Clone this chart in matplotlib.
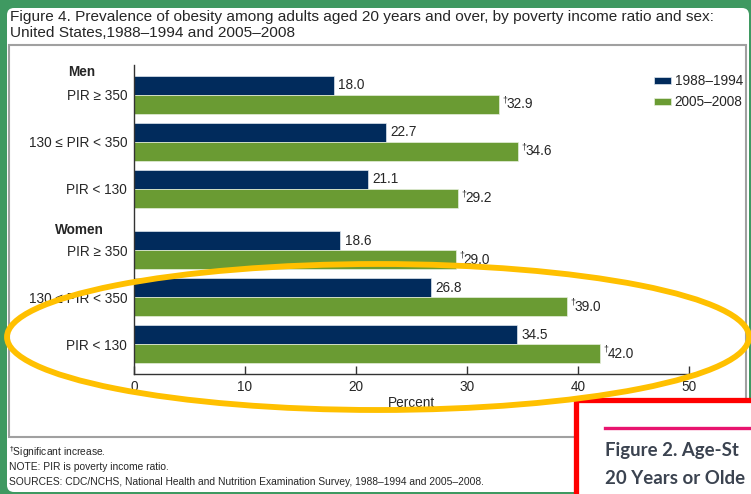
import numpy as np
import matplotlib.pyplot as plt
import matplotlib.transforms as mtransforms
from matplotlib.patches import Ellipse, Rectangle, FancyBboxPatch

# data
groups = ['PIR ≥ 350', '130 ≤ PIR < 350', 'PIR < 130']
men_8894 = [18.0, 22.7, 21.1]
men_0508 = [32.9, 34.6, 29.2]
women_8894 = [18.6, 26.8, 34.5]
women_0508 = [29.0, 39.0, 42.0]
series = ['1988–1994', '2005–2008']
xticks = [0, 10, 20, 30, 40, 50]

navy = '#012b5c'
green = '#6a9b33'
frame_green = '#3f9961'
txt = '#262626'
fs = 9.8

W, H = 751, 494
fig = plt.figure(figsize=(W / 100, H / 100), dpi=100, facecolor=frame_green)
# pixel coords, origin top-left
pix = mtransforms.Affine2D().scale(1 / W, -1 / H).translate(0, 1) + fig.transFigure

# white page + grey chart box
fig.patches.append(FancyBboxPatch((7, 8), 742, 484, boxstyle='round,pad=0,rounding_size=7',
                                  transform=pix, facecolor='white', edgecolor='none', zorder=0))
fig.patches.append(Rectangle((8.5, 45.5), 737, 391, transform=pix, facecolor='white',
                             edgecolor='#a0a0a0', linewidth=1.5, zorder=1))

fig.text(10, 17, 'Figure 4. Prevalence of obesity among adults aged 20 years and over, by poverty income ratio and sex:',
         transform=pix, fontsize=11.1, color=txt, va='center', family='Liberation Sans')
fig.text(10, 33, 'United States,1988–1994 and 2005–2008',
         transform=pix, fontsize=11.1, color=txt, va='center', family='Liberation Sans')

ax = fig.add_axes([134 / W, 1 - 374 / H, 555 / W, 309 / H], zorder=2)
ax.patch.set_alpha(0)

slots = [0, 1, 2, 3.3, 4.3, 5.3]
h = 0.404
old = men_8894 + women_8894
new = men_0508 + women_0508
pos = np.array(slots)
ax.barh(pos - h / 2, old, height=h, color=navy, edgecolor='#dfe6ee', linewidth=0.5, label=series[0])
ax.barh(pos + h / 2, new, height=h, color=green, edgecolor='#e6efdc', linewidth=0.5, label=series[1])

for y, v in zip(pos - h / 2, old):
    ax.annotate(f'{v:.1f}', xy=(v, y), xytext=(3, 0), textcoords='offset points',
                va='center', ha='left', fontsize=fs, color=txt, family='Liberation Sans')
for y, v in zip(pos + h / 2, new):
    ax.annotate('†', xy=(v, y), xytext=(2.5, 3.5), textcoords='offset points',
                va='center', ha='left', fontsize=6.2, color=txt, family='Liberation Sans')
    ax.annotate(f'{v:.1f}', xy=(v, y), xytext=(5.5, 0), textcoords='offset points',
                va='center', ha='left', fontsize=fs, color=txt, family='Liberation Sans')

ax.set_xlim(0, 50)
ax.set_ylim(5.3 + 30 / 47, -30 / 47)
ax.set_xticks(xticks)
ax.set_xticklabels([str(t) for t in xticks], fontsize=fs, color=txt, family='Liberation Sans')
ax.set_yticks(pos)
ax.set_yticklabels(groups * 2, fontsize=fs, color=txt, family='Liberation Sans')
ax.tick_params(axis='y', length=0, pad=5)
ax.tick_params(axis='x', direction='in', length=5.5, width=1, color='#333333', pad=4)
for s in ['top', 'right']:
    ax.spines[s].set_visible(False)
for s in ['left', 'bottom']:
    ax.spines[s].set_color('#333333')
    ax.spines[s].set_linewidth(1)
ax.set_xlabel('Percent', fontsize=fs, color=txt, family='Liberation Sans', labelpad=2)

fig.text(82, 72, 'Men', transform=pix, fontsize=fs, weight='bold', color=txt,
         ha='center', va='center', family='Liberation Sans')
fig.text(79, 230, 'Women', transform=pix, fontsize=fs, weight='bold', color=txt,
         ha='center', va='center', family='Liberation Sans')

leg = ax.legend(loc='upper left', bbox_to_anchor=(642 / W, 1 - 62 / H), bbox_transform=fig.transFigure,
                frameon=False, handlelength=1.2, handleheight=0.45,
                handletextpad=0.3, labelspacing=0.5, prop={'family': 'Liberation Sans', 'size': fs})
for t in leg.get_texts():
    t.set_color(txt)

# footnotes
fig.text(9, 452, '$^{\\dagger}$Significant increase.', transform=pix, fontsize=7.4, color=txt,
         va='center', family='Liberation Sans')
fig.text(9, 467, 'NOTE: PIR is poverty income ratio.', transform=pix, fontsize=7.4, color=txt,
         va='center', family='Liberation Sans')
fig.text(9, 482, 'SOURCES: CDC/NCHS, National Health and Nutrition Examination Survey, 1988–1994 and 2005–2008.',
         transform=pix, fontsize=7.4, color=txt, va='center', family='Liberation Sans')

# overlapping red-framed figure in the corner
fig.patches.append(Rectangle((575.5, 399.5), 200, 120, transform=pix, facecolor='white',
                             edgecolor='#ff0000', linewidth=3.8, zorder=5))
fig.lines.append(plt.Line2D([605, 760], [428, 428], transform=pix, color='#e8156f',
                            linewidth=2.4, zorder=6))
fig.text(605, 450, 'Figure 2. Age-St', transform=pix, fontsize=13.4, weight='bold',
         color='#3b4350', va='center', family='Lato', zorder=6)
fig.text(605, 478, '20 Years or Olde', transform=pix, fontsize=13.4, weight='bold',
         color='#3b4350', va='center', family='Lato', zorder=6)

# yellow highlight ring
fig.patches.append(Ellipse((378, 337), 742, 146, transform=pix, facecolor='none',
                           edgecolor='#ffc000', linewidth=4.2, zorder=10))

fig.savefig('out.png', dpi=100, facecolor=frame_green)
